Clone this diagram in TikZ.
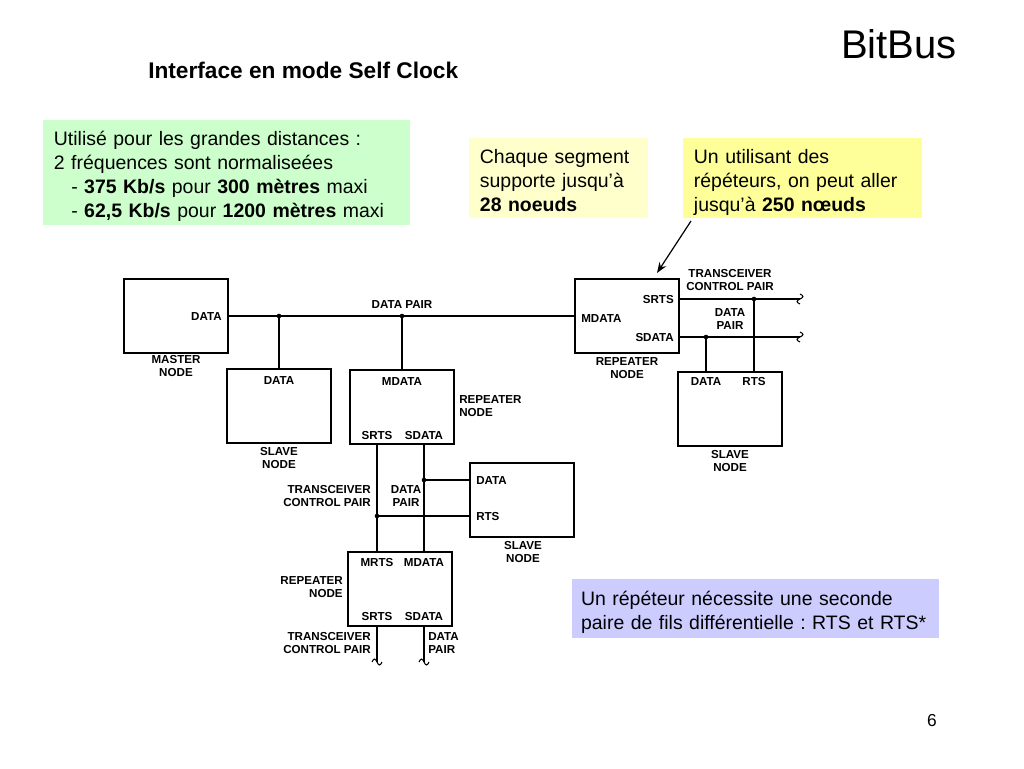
\documentclass[tikz,border=0pt]{standalone}
\usepackage{fontspec}
\setmainfont{Liberation Sans}
\usetikzlibrary{arrows.meta}
\definecolor{notegreen}{HTML}{CCFFCC}
\definecolor{notepale}{HTML}{FFFFCC}
\definecolor{noteyellow}{HTML}{FFFF99}
\definecolor{noteblue}{HTML}{CCCCFF}
\newcommand{\notetop}{\rule{0pt}{16.4pt}}
\newcommand{\notebot}{\rule[-3.2pt]{0pt}{3.2pt}}
\frenchspacing
\begin{document}
\begin{tikzpicture}[x=0.75pt, y=-0.75pt,
  unit/.style={draw, line width=1.3pt, minimum width=78pt, minimum height=55.5pt, inner sep=0pt},
  pinlbl/.style={font=\fontsize{8.7}{9.8}\selectfont\bfseries, inner sep=0pt, text height=6.3pt, text depth=0pt},
  grplbl/.style={font=\fontsize{8.7}{9.8}\selectfont\bfseries, inner sep=0pt, align=center},
  wire/.style={line width=0.8pt},
  note/.style={anchor=north west, font=\fontsize{14.6}{18}\selectfont, align=left, inner xsep=8pt, inner ysep=0pt},
  brk/.pic={\draw[wire] (-5,0) sin (-2.5,-3) cos (0,0) sin (2.5,3) cos (5,0);}]
  \useasboundingbox (0,0) rectangle (1024,768);

  % titles
  \node[anchor=base east, inner sep=0pt, font=\fontsize{30}{36}\selectfont] (bitbus) at (957,58) {BitBus};
  \node[anchor=base west, inner sep=0pt, font=\fontsize{17}{20}\selectfont\bfseries] (title) at (148,78) {Interface en mode Self Clock};
  \node[anchor=base, inner sep=0pt, font=\fontsize{13}{15}\selectfont] (pgnum) at (932,726) {6};

  % notes
  \node[note, fill=notegreen, text width=259pt, minimum height=78.75pt] (distnote) at (43,120)
    {\notetop Utilisé pour les grandes distances :\\
     2 fréquences sont normaliseées\\
     \hspace*{13pt}- \textbf{375 Kb/s} pour \textbf{300 mètres} maxi\\
     \hspace*{13pt}- \textbf{62,5 Kb/s} pour \textbf{1200 mètres} maxi\notebot};
  \node[note, fill=notepale, text width=118pt, minimum height=60pt] (segnote) at (469,138)
    {\notetop Chaque segment\\ supporte jusqu’à\\ \textbf{28 noeuds}\notebot};
  \node[note, fill=noteyellow, text width=163pt, minimum height=60pt] (repnote) at (683,138)
    {\notetop Un utilisant des\\ répéteurs, on peut aller\\ jusqu’à \textbf{250 nœuds}\notebot};
  \node[note, fill=noteblue, text width=262pt, inner xsep=6.6pt, minimum height=44.25pt] (rtsnote) at (572,579)
    {\notetop Un répéteur nécessite une seconde\\ paire de fils différentielle : RTS et RTS*\notebot};

  % units
  \node[unit] (master) at (176,316) {};
  \node[unit] (slave1) at (279,406) {};
  \node[unit] (rep1) at (402,407) {};
  \node[unit] (slave2) at (522,500) {};
  \node[unit] (rep2) at (400,589) {};
  \node[unit] (rep3) at (627,316) {};
  \node[unit] (slave3) at (730,409) {};

  % pins
  \node[pinlbl, anchor=east] (mdata) at (222,316) {DATA};
  \node[pinlbl] (s1data) at (279,380) {DATA};
  \node[pinlbl] (r1mdata) at (402,381) {MDATA};
  \node[pinlbl] (r1srts) at (377,435) {SRTS};
  \node[pinlbl] (r1sdata) at (424,435) {SDATA};
  \node[pinlbl, anchor=west] (s2data) at (476,480) {DATA};
  \node[pinlbl, anchor=west] (s2rts) at (476,516) {RTS};
  \node[pinlbl] (r2mrts) at (377,562) {MRTS};
  \node[pinlbl] (r2mdata) at (424,562) {MDATA};
  \node[pinlbl] (r2srts) at (377,616) {SRTS};
  \node[pinlbl] (r2sdata) at (424,616) {SDATA};
  \node[pinlbl, anchor=east] (r3srts) at (674,299) {SRTS};
  \node[pinlbl, anchor=west] (r3mdata) at (581,318) {MDATA};
  \node[pinlbl, anchor=east] (r3sdata) at (674,337) {SDATA};
  \node[pinlbl] (s3data) at (706,381) {DATA};
  \node[pinlbl] (s3rts) at (754,381) {RTS};

  % group labels
  \node[grplbl] (mastlbl) at (176,366) {MASTER\\NODE};
  \node[grplbl] (s1lbl) at (279,458) {SLAVE\\NODE};
  \node[grplbl] (pairlbl) at (402,305) {DATA PAIR};
  \node[grplbl, anchor=west, align=left] (r1lbl) at (459,406) {REPEATER\\NODE};
  \node[grplbl, anchor=east, align=right] (ctl1lbl) at (371,496) {TRANSCEIVER\\CONTROL PAIR};
  \node[grplbl] (pair1lbl) at (406,496) {DATA\\PAIR};
  \node[grplbl] (s2lbl) at (523,552) {SLAVE\\NODE};
  \node[grplbl, anchor=east, align=right] (r2lbl) at (343,587) {REPEATER\\NODE};
  \node[grplbl, anchor=east, align=right] (ctl2lbl) at (371,643) {TRANSCEIVER\\CONTROL PAIR};
  \node[grplbl, anchor=west, align=left] (pair2lbl) at (428,643) {DATA\\PAIR};
  \node[grplbl] (ctl3lbl) at (730,280) {TRANSCEIVER\\CONTROL PAIR};
  \node[grplbl] (pair3lbl) at (730,319) {DATA\\PAIR};
  \node[grplbl] (r3lbl) at (627,368) {REPEATER\\NODE};
  \node[grplbl] (s3lbl) at (730,461) {SLAVE\\NODE};

  % junctions and wire ends
  \coordinate (j1) at (279,316);
  \coordinate (j2) at (402,316);
  \coordinate (j3) at (424,480);
  \coordinate (j4) at (377,516);
  \coordinate (j5) at (754,299);
  \coordinate (j6) at (706,337);
  \coordinate (t1) at (377,662);
  \coordinate (t2) at (424,662);
  \coordinate (t3) at (800,299);
  \coordinate (t4) at (800,337);

  % wires
  \draw[wire] (master.east) -- (rep3.west);
  \draw[wire] (j1) -- (slave1.north);
  \draw[wire] (j2) -- (rep1.north);
  \draw[wire] (rep1.south -| r1srts) -- (rep2.north -| r2mrts);
  \draw[wire] (rep1.south -| r1sdata) -- (rep2.north -| r2mdata);
  \draw[wire] (j3) -- (j3 -| slave2.west);
  \draw[wire] (j4) -- (j4 -| slave2.west);
  \draw[wire] (rep2.south -| t1) -- (t1);
  \draw[wire] (rep2.south -| t2) -- (t2);
  \draw[wire] (rep3.east |- t3) -- (t3);
  \draw[wire] (rep3.east |- t4) -- (t4);
  \draw[wire] (j5) -- (j5 |- slave3.north);
  \draw[wire] (j6) -- (j6 |- slave3.north);
  \foreach \j in {j1,j2,j3,j4,j5,j6}
    \fill (\j) circle (2.3);
  \pic at (t1) {brk};
  \pic at (t2) {brk};
  \pic[rotate=90] at (t3) {brk};
  \pic[rotate=90] at (t4) {brk};

  % arrow from the note
  \coordinate (arrtail) at (691,221);
  \coordinate (arrtip) at (657,273);
  \draw[-{Stealth[length=8pt,width=6pt]}, line width=0.9pt] (arrtail) -- (arrtip);
\end{tikzpicture}
\end{document}
